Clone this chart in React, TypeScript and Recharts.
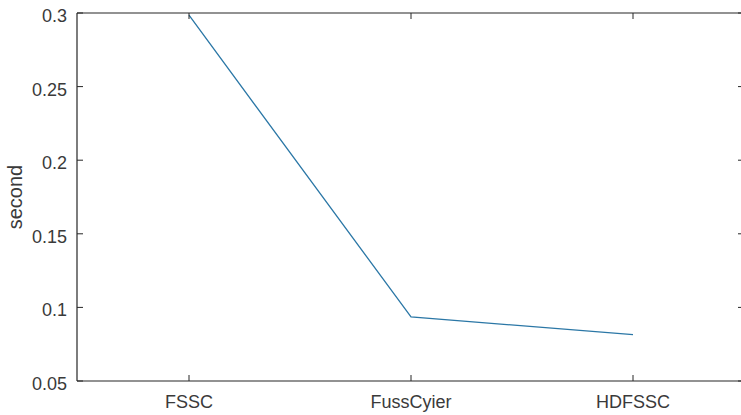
import React from "react";
import { LineChart, Line, XAxis, YAxis } from "recharts";

const categories = ["FSSC", "FussCyier", "HDFSSC"];
const seconds = [0.2985, 0.0935, 0.0815];
const yTicks = [0.05, 0.1, 0.15, 0.2, 0.25, 0.3];
const yLabel = "second";

const data = categories.map((c, i) => ({ name: c, v: seconds[i] }));

const AX = "#262626";
const TXT = "#3a3a3a";
const FONT = "'Liberation Sans', Arial, Helvetica, sans-serif";

const BottomTick = (props: any) => {
  const { x, y, payload } = props;
  return (
    <g>
      <line x1={x} y1={y} x2={x} y2={y - 6} stroke={AX} strokeWidth={1} />
      <text x={x} y={y + 27} textAnchor="middle" fontSize={18} fontFamily={FONT} fill={TXT}>
        {payload.value}
      </text>
    </g>
  );
};

const TopTick = (props: any) => {
  const { x, y } = props;
  return <line x1={x} y1={y} x2={x} y2={y + 6} stroke={AX} strokeWidth={1} />;
};

const LeftTick = (props: any) => {
  const { x, y, payload } = props;
  return (
    <g>
      <line x1={x} y1={y} x2={x + 6} y2={y} stroke={AX} strokeWidth={1} />
      <text x={x - 10} y={y + 9} textAnchor="end" fontSize={18} fontFamily={FONT} fill={TXT}>
        {String(payload.value)}
      </text>
    </g>
  );
};

const RightTick = (props: any) => {
  const { x, y } = props;
  return <line x1={x} y1={y} x2={x - 6} y2={y} stroke={AX} strokeWidth={1} />;
};

const YLabel = (props: any) => {
  const vb = props.viewBox || {};
  const cy = (vb.y ?? 13) + (vb.height ?? 368) / 2;
  const cx = 22;
  return (
    <text
      x={cx}
      y={cy}
      transform={`rotate(-90 ${cx} ${cy})`}
      textAnchor="middle"
      fontSize={20}
      fontFamily={FONT}
      fill={TXT}
    >
      {yLabel}
    </text>
  );
};

export default function App() {
  return (
    <div style={{ position: "absolute", left: 0, top: 0, width: 741, height: 415, overflow: "hidden", background: "#fff" }}>
      <LineChart width={760} height={415} data={data} margin={{ top: 0, right: 0, bottom: 0, left: 0 }}>
        <XAxis
          dataKey="name"
          xAxisId="b"
          orientation="bottom"
          height={34}
          padding={{ left: 112, right: 111 }}
          axisLine={{ stroke: AX, strokeWidth: 1.2 }}
          tickLine={false}
          tickSize={0}
          tickMargin={0}
          tick={<BottomTick />}
          interval={0}
        />
        <XAxis
          dataKey="name"
          xAxisId="t"
          orientation="top"
          height={13}
          padding={{ left: 112, right: 111 }}
          axisLine={{ stroke: AX, strokeWidth: 1.2 }}
          tickLine={false}
          tickSize={0}
          tickMargin={0}
          tick={<TopTick />}
          interval={0}
        />
        <YAxis
          yAxisId="l"
          orientation="left"
          width={77}
          type="number"
          domain={[0.05, 0.3]}
          ticks={yTicks}
          allowDataOverflow
          axisLine={{ stroke: AX, strokeWidth: 1.2 }}
          tickLine={false}
          tickSize={0}
          tickMargin={0}
          tick={<LeftTick />}
          interval={0}
          label={<YLabel />}
        />
        <YAxis
          yAxisId="r"
          orientation="right"
          width={16}
          type="number"
          domain={[0.05, 0.3]}
          ticks={yTicks}
          allowDataOverflow
          axisLine={{ stroke: AX, strokeWidth: 1.2 }}
          tickLine={false}
          tickSize={0}
          tickMargin={0}
          tick={<RightTick />}
          interval={0}
        />
        <Line
          xAxisId="b"
          yAxisId="l"
          dataKey="v"
          type="linear"
          stroke="#2b77a6"
          strokeWidth={1.3}
          dot={false}
          isAnimationActive={false}
        />
      </LineChart>
    </div>
  );
}
